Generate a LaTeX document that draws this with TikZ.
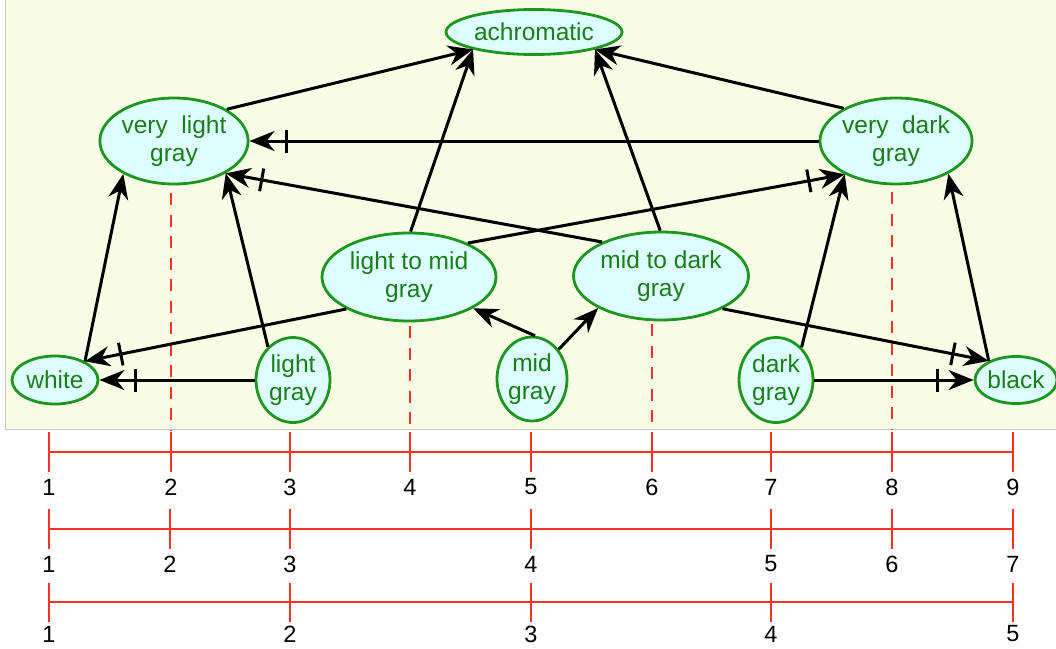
\documentclass[tikz,border=0pt]{standalone}
\usepackage{fontspec}
\setmainfont{Liberation Sans}
\usetikzlibrary{arrows.meta,shapes.geometric}
\definecolor{bgyellow}{RGB}{250,253,230}
\definecolor{nodefill}{RGB}{222,255,255}
\definecolor{nodeedge}{RGB}{30,150,30}
\definecolor{nodetext}{RGB}{25,125,25}
\definecolor{scalered}{RGB}{250,50,35}
\definecolor{panelframe}{RGB}{200,200,200}

\begin{document}
\begin{tikzpicture}[x=1pt,y=-1pt,
  tone/.style={ellipse, draw=nodeedge, line width=2.8pt, fill=nodefill,
    text=nodetext, inner sep=0pt, align=center,
    font=\fontsize{24.5}{27.5}\selectfont},
  link/.style={line width=3pt, -{Stealth[length=25pt,width=20pt,inset=8pt]}},
  blocked/.style={line width=3pt,
    -{Bar[width=23pt,sep=10pt]Stealth[length=25pt,width=20pt,inset=8pt]}},
  guide/.style={scalered, line width=2.8pt, dash pattern=on 12pt off 9.5pt},
  ruler/.style={scalered, line width=2.8pt},
  num/.style={font=\fontsize{23.5}{23.5}\selectfont, text=black, inner sep=0pt}
]
\useasboundingbox (0,0) rectangle (1056,648);

% panel behind the lattice
\draw[fill=bgyellow, draw=panelframe, line width=1.2pt] (5.5,-2) rectangle (1060,429.5);

% dashed drop lines to the scales
\draw[guide] (171,193) -- (171,430);
\draw[guide] (410,326) -- (410,430);
\draw[guide] (652,324) -- (652,430);
\draw[guide] (892,192) -- (892,430);

% lattice of gray terms
\node[tone, minimum width=176pt, minimum height=45pt] (achro) at (534,32) {achromatic};
\node[tone, minimum width=145pt, minimum height=86pt] (vlg) at (174,141) {very\ \ light\\gray};
\node[tone, minimum width=146pt, minimum height=86pt] (vdg) at (896,141) {very\ \ dark\\gray};
\node[tone, minimum width=174pt, minimum height=88pt] (ltm) at (409,277) {light to mid\\gray};
\node[tone, minimum width=175pt, minimum height=88pt] (mtd) at (661,276) {mid to dark\\gray};
\node[tone, minimum width=86pt, minimum height=48pt] (white) at (55,380) {white};
\node[tone, minimum width=74pt, minimum height=85pt] (lg) at (293,380) {light\\gray};
\node[tone, minimum width=70pt, minimum height=84pt] (mg) at (532,379) {mid\\gray};
\node[tone, minimum width=74pt, minimum height=85pt] (dg) at (776,380) {dark\\gray};
\node[tone, minimum width=82pt, minimum height=47pt] (black) at (1016,380) {black};

% ordering relations
\draw[link] (vlg.31) -- (achro.196);
\draw[link] (vdg.148) -- (achro.344);
\draw[link] (ltm.88) -- (achro.196);
\draw[link] (mtd.91) -- (achro.344);
\draw[blocked] (vdg.west) -- (vlg.east);
\draw[blocked] (mtd.150) -- (vlg.328);
\draw[blocked] (ltm.30) -- (vdg.213);
\draw[link] (white.32) -- (vlg.213);
\draw[link] (lg.127) -- (vlg.328);
\draw[blocked] (ltm.207) -- (white.32);
\draw[blocked] (lg.west) -- (white.east);
\draw[link] (mg.86) -- (ltm.334);
\draw[link] (mg.48) -- (mtd.207);
\draw[blocked] (mtd.332) -- (black.145);
\draw[blocked] (dg.east) -- (black.west);
\draw[link] (dg.52) -- (vdg.213);
\draw[link] (black.145) -- (vdg.328);

% nine-step scale
\draw[ruler] (49,452) -- (1013,452);
\foreach \x [count=\i] in {49,171,290,410,531,652,771,892,1013} {
  \draw[ruler] (\x,432) -- (\x,472);
  \node[num] (nine\i) at (\x,487) {\i};
}
% seven-step scale
\draw[ruler] (49,529) -- (1013,529);
\foreach \x [count=\i] in {49,170,290,531,771,892,1013} {
  \draw[ruler] (\x,509) -- (\x,549);
  \node[num] (seven\i) at (\x,564) {\i};
}
% five-step scale
\draw[ruler] (49,602) -- (1013,602);
\foreach \x [count=\i] in {49,290,531,771,1013} {
  \draw[ruler] (\x,583) -- (\x,622);
  \node[num] (five\i) at (\x,634) {\i};
}
\end{tikzpicture}
\end{document}
